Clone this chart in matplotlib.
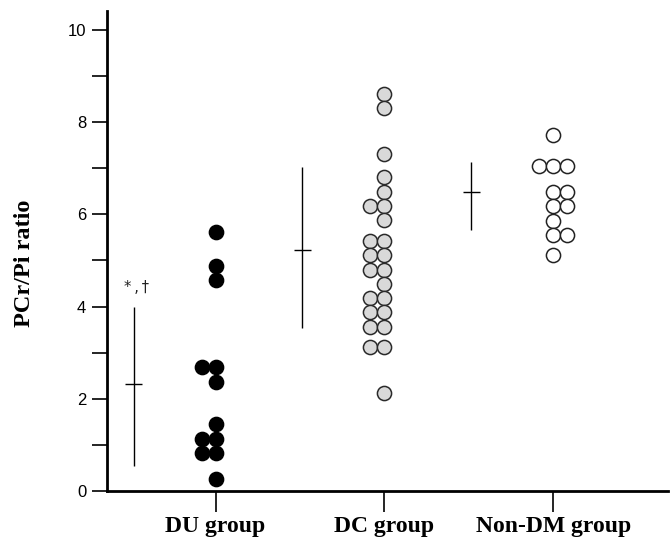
import matplotlib
matplotlib.use("Agg")
import matplotlib.pyplot as plt
import numpy as np

# ---- data ----
groups = ["DU group", "DC group", "Non-DM group"]

du_values = [5.62, 4.89, 4.58, 2.70, 2.70, 2.37, 1.45, 1.13, 1.13, 0.82, 0.82, 0.25]
du_cols   = [0, 0, 0, -1, 0, 0, 0, -1, 0, -1, 0, 0]

dc_values = [8.61, 8.31, 7.30, 6.80, 6.49, 6.18, 6.18, 5.88, 5.42, 5.42, 5.11, 5.11,
             4.80, 4.80, 4.50, 4.19, 4.19, 3.88, 3.88, 3.56, 3.56, 3.12, 3.12, 2.13]
dc_cols   = [0, 0, 0, 0, 0, -1, 0, 0, -1, 0, -1, 0,
             -1, 0, 0, -1, 0, -1, 0, -1, 0, -1, 0, 0]

nondm_values = [7.72, 7.04, 7.04, 7.04, 6.49, 6.49, 6.18, 6.18, 5.86, 5.55, 5.55, 5.11]
nondm_cols   = [0, -1, 0, 1, 0, 1, 0, 1, 0, 0, 1, 0]

means = [2.31, 5.23, 6.49]
upper = [4.00, 7.03, 7.14]
lower = [0.55, 3.54, 5.66]

annotation = "*\u2009,\u2009\u2020"

# ---- figure ----
fig = plt.figure(figsize=(6.70, 5.37), dpi=100)
ax = fig.add_axes([107/670, 46/537, 561/670, 480/537])

col_step = 0.083
ms = 10.2
point_sets = [
    (du_values, du_cols, dict(facecolor="black", edgecolor="black")),
    (dc_values, dc_cols, dict(facecolor="#d9d9d9", edgecolor="#2a2a2a")),
    (nondm_values, nondm_cols, dict(facecolor="white", edgecolor="#222222")),
]
for i, (vals, cols, style) in enumerate(point_sets):
    xs = (i + 1) + np.array(cols) * col_step
    ax.plot(xs, vals, linestyle="none", marker="o", markersize=ms,
            markerfacecolor=style["facecolor"], markeredgecolor=style["edgecolor"],
            markeredgewidth=1.1, zorder=3)

# mean +/- SD crosses
bar_off = -0.485
half_w = 0.05
for i in range(3):
    x = (i + 1) + bar_off
    ax.vlines(x, lower[i], upper[i], color="black", linewidth=1.0)
    ax.hlines(means[i], x - half_w, x + half_w, color="black", linewidth=1.0)

ax.text(1 + bar_off + 0.015, 4.42, annotation, ha="center", va="center",
        fontsize=10.5, family="DejaVu Sans", color="#222222")

ax.set_xlim(0.357, 3.68)
ax.set_ylim(0, 10.41)

ax.spines["top"].set_visible(False)
ax.spines["right"].set_visible(False)
ax.spines["left"].set_linewidth(2.0)
ax.spines["bottom"].set_linewidth(2.0)

ax.set_yticks([0, 2, 4, 6, 8, 10])
ax.set_yticks([1, 3, 5, 7, 9], minor=True)
ax.tick_params(axis="y", which="both", direction="out", length=11, width=1.2)
ax.tick_params(axis="y", which="major", labelsize=12, pad=4)
for lab in ax.get_yticklabels():
    lab.set_family("Liberation Sans")

ax.set_xticks([1, 2, 3])
ax.set_xticklabels(groups, fontsize=17, fontweight="bold", family="Liberation Serif")
ax.tick_params(axis="x", direction="out", length=15, width=1.2, pad=3)

fig.text(25/670, 1 - 263/537, "PCr/Pi ratio", rotation=90, ha="center", va="center",
         fontsize=17.5, fontweight="bold", family="Liberation Serif")

fig.savefig("out.png", dpi=100)
